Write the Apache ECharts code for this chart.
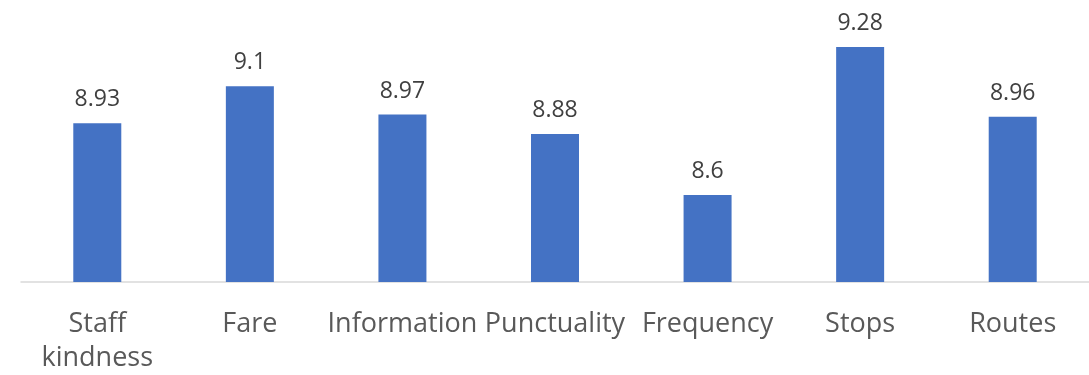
<!DOCTYPE html>
<html>
<head>
<meta charset="utf-8">
<script src="https://cdn.jsdelivr.net/npm/echarts@6/dist/echarts.min.js"></script>
<style>
  html, body { margin: 0; padding: 0; background: #ffffff; }
  #chart { width: 1089px; height: 375px; }
</style>
</head>
<body>
<div id="chart"></div>
<script>
// Satisfaction scores per service aspect
const categories = ['Staff\nkindness', 'Fare', 'Information', 'Punctuality', 'Frequency', 'Stops', 'Routes'];
const scores = [8.93, 9.1, 8.97, 8.88, 8.6, 9.28, 8.96];

const chart = echarts.init(document.getElementById('chart'), null, { renderer: 'canvas' });

chart.setOption({
  animation: false,
  grid: { left: 21, right: 0, top: 21, bottom: 89, containLabel: false },
  xAxis: {
    type: 'category',
    data: categories,
    axisLine: { show: true, lineStyle: { color: '#D9D9D9', width: 1.5 } },
    axisTick: { show: false },
    axisLabel: {
      interval: 0,
      margin: 25,
      color: '#595959',
      fontFamily: 'Open Sans',
      fontSize: 27,
      lineHeight: 34
    }
  },
  yAxis: {
    type: 'value',
    min: 8.2,
    max: 9.4,
    show: false,
    splitLine: { show: false }
  },
  series: [{
    type: 'bar',
    data: scores,
    barWidth: 48,
    itemStyle: { color: '#4472C4' },
    label: {
      show: true,
      position: 'top',
      distance: 12,
      color: '#404040',
      fontFamily: 'Open Sans',
      fontSize: 23
    }
  }]
});
</script>
</body>
</html>
